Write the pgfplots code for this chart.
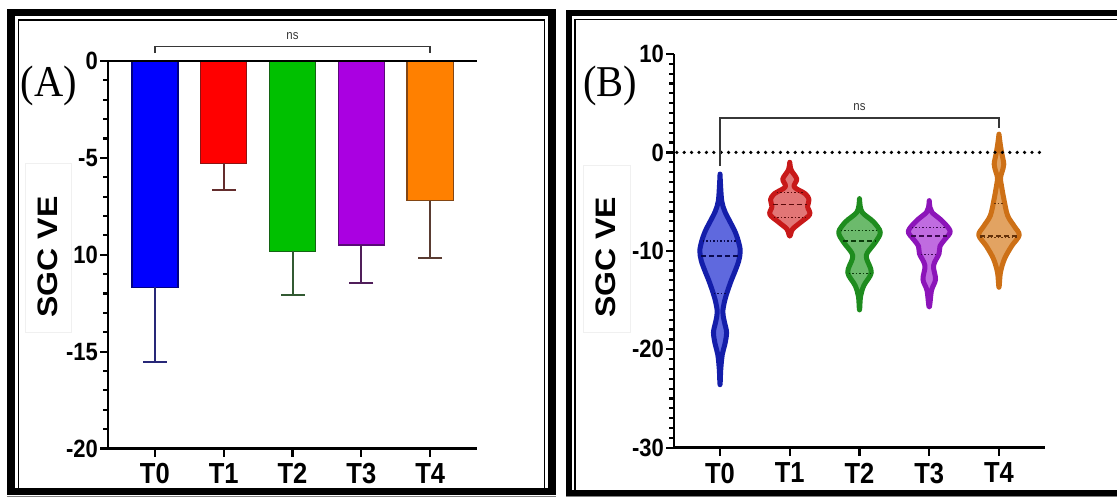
\documentclass[border=0pt]{standalone}
\usepackage{fontspec}
\setmainfont{Liberation Sans}
\newfontfamily\lab{Liberation Sans}[FakeStretch=0.88]
\newfontfamily\ser{Liberation Serif}[FakeStretch=0.92]
\usepackage{pgfplots}
\pgfplotsset{compat=1.18}
\definecolor{bT0}{RGB}{0,0,255}\definecolor{eT0}{RGB}{0,0,130}\definecolor{rT0}{RGB}{40,40,120}
\definecolor{bT1}{RGB}{255,0,0}\definecolor{eT1}{RGB}{140,20,20}\definecolor{rT1}{RGB}{100,45,45}
\definecolor{bT2}{RGB}{0,192,0}\definecolor{eT2}{RGB}{20,100,20}\definecolor{rT2}{RGB}{50,90,50}
\definecolor{bT3}{RGB}{170,0,225}\definecolor{eT3}{RGB}{90,10,120}\definecolor{rT3}{RGB}{80,30,90}
\definecolor{bT4}{RGB}{255,128,0}\definecolor{eT4}{RGB}{130,70,20}\definecolor{rT4}{RGB}{90,60,50}
\definecolor{vfT0}{RGB}{95,105,222}\definecolor{vdT0}{RGB}{20,30,170}\definecolor{vmT0}{RGB}{10,10,80}
\definecolor{vfT1}{RGB}{226,118,118}\definecolor{vdT1}{RGB}{200,25,25}\definecolor{vmT1}{RGB}{90,10,10}
\definecolor{vfT2}{RGB}{108,186,108}\definecolor{vdT2}{RGB}{30,140,30}\definecolor{vmT2}{RGB}{10,60,10}
\definecolor{vfT3}{RGB}{192,108,224}\definecolor{vdT3}{RGB}{140,20,185}\definecolor{vmT3}{RGB}{60,10,80}
\definecolor{vfT4}{RGB}{226,163,98}\definecolor{vdT4}{RGB}{205,112,22}\definecolor{vmT4}{RGB}{100,50,10}
\definecolor{brk}{RGB}{55,55,55}
\pgfplotsset{
  panel/.style={
    scale only axis, clip=false,
    axis x line*=bottom, axis y line*=left,
    axis line style={line width=2.5pt},
    tick align=outside, major tick length=8pt, minor tick length=5pt,
    xtick style={line width=2.2pt, black}, ytick style={line width=2.2pt, black},
    xtick={0,1,2,3,4}, xticklabels={T0,T1,T2,T3,T4},
    xticklabel style={font=\lab\bfseries\fontsize{29}{29}\selectfont, inner sep=2pt, yshift=-5pt},
    yticklabel style={font=\lab\bfseries\fontsize{25}{25}\selectfont, inner sep=2pt},
  },
  mybar/.style={ybar, bar width=0.67, bar shift=0, line width=1.5pt},
  myerr/.style={error bars/.cd, y dir=minus, y explicit,
    error bar style={line width=2pt, color=#1},
    error mark options={rotate=90, line width=2pt, color=#1, mark size=12pt}},
  myvio/.style n args={2}{fill=#1, draw=#2, line width=5pt, smooth, tension=0.55, line join=round, line cap=round},
  qmed/.style={color=#1, line width=1.6pt, dash pattern=on 5pt off 3pt},
  qdot/.style={color=#1, line width=1.1pt, dash pattern=on 1.5pt off 2pt},
}
\begin{document}
\begin{tikzpicture}
\useasboundingbox (0,0) rectangle (1117pt,498pt);
% ---- frames ----
\begin{scope}[x=1pt,y=1pt]
\draw[line width=7.5pt] (11.2,6.5) rectangle (552,485.3);
\draw[line width=1.5pt] (18.5,6.5) -- (18.5,478.2) -- (544.5,478.2) -- (544.5,6.5);
\draw[line width=1.2pt, gray] (7,1.5) -- (556,1.5);
\draw[line width=6pt] (1117,485.3) -- (569.2,485.3) -- (569.2,5.3) -- (1117,5.3);
\draw[line width=1.5pt] (1117,478.5) -- (575,478.5) -- (575,5.3);
\draw[line width=1.2pt, gray] (566,1.3) -- (1117,1.3);
\end{scope}

% ---- Panel A ----
\begin{axis}[panel, at={(108pt,49.5pt)}, anchor=south west,
  width=369pt, height=387.5pt,
  xmin=-0.68, xmax=4.68, ymin=-20, ymax=0,
  ytick={-20,-15,-10,-5,0}, yticklabels={-20,-15,10,-5,0},
  minor y tick num=4]
\addplot[mybar, fill=bT0, draw=eT0, myerr=rT0] coordinates {(0,-11.68) +- (0,3.86)};
\addplot[mybar, fill=bT1, draw=eT1, myerr=rT1] coordinates {(1,-5.28) +- (0,1.38)};
\addplot[mybar, fill=bT2, draw=eT2, myerr=rT2] coordinates {(2,-9.83) +- (0,2.25)};
\addplot[mybar, fill=bT3, draw=eT3, myerr=rT3] coordinates {(3,-9.50) +- (0,1.98)};
\addplot[mybar, fill=bT4, draw=eT4, myerr=rT4] coordinates {(4,-7.21) +- (0,2.94)};
\addplot[line width=2.5pt, black] coordinates {(-0.68,0) (4.68,0)};
\addplot[line width=1.5pt, brk] coordinates {(0,0.40) (0,0.74) (4,0.74) (4,0.40)};
\node[font=\lab\fontsize{13}{13}\selectfont, text=brk] at (axis cs:2,1.3) {ns};
\end{axis}

% ---- Panel B ----
\begin{axis}[panel, at={(674pt,50.3pt)}, anchor=south west,
  width=371pt, height=393.7pt,
  xmin=-0.66, xmax=4.66, ymin=-30, ymax=10,
  ytick={-30,-20,-10,0,10}, yticklabels={-30,-20,-10,0,10},
  minor y tick num=9]
% T0
\addplot[myvio={vfT0}{vdT0}] coordinates {(0,-2.2) (0.009,-3.5) (0.026,-5.0) (0.069,-6.0) (0.140,-7.0) (0.212,-8.0) (0.262,-9.0) (0.290,-10.0) (0.269,-11.0) (0.219,-12.0) (0.162,-13.0) (0.112,-14.0) (0.069,-15.0) (0.040,-16.2) (0.062,-17.2) (0.094,-18.3) (0.069,-19.5) (0.033,-20.5) (0.011,-22.0) (0,-23.6) (-0.011,-22.0) (-0.033,-20.5) (-0.069,-19.5) (-0.094,-18.3) (-0.062,-17.2) (-0.040,-16.2) (-0.069,-15.0) (-0.112,-14.0) (-0.162,-13.0) (-0.219,-12.0) (-0.269,-11.0) (-0.290,-10.0) (-0.262,-9.0) (-0.212,-8.0) (-0.140,-7.0) (-0.069,-6.0) (-0.026,-5.0) (-0.009,-3.5) (0,-2.2)};
\addplot[qdot=vmT0] coordinates {(-0.25,-9.0) (0.25,-9.0)};
\addplot[qmed=vmT0] coordinates {(-0.27,-10.5) (0.27,-10.5)};
\addplot[qdot=vmT0] coordinates {(-0.09,-14.3) (0.09,-14.3)};
% T1
\addplot[myvio={vfT1}{vdT1}] coordinates {(1,-1.0) (1.021,-1.8) (1.100,-2.7) (1.064,-3.5) (1.222,-4.2) (1.276,-4.8) (1.255,-5.5) (1.286,-6.3) (1.157,-7.1) (1.040,-7.8) (1,-8.5) (0.960,-7.8) (0.843,-7.1) (0.714,-6.3) (0.745,-5.5) (0.724,-4.8) (0.778,-4.2) (0.936,-3.5) (0.900,-2.7) (0.979,-1.8) (1,-1.0)};
\addplot[qdot=vmT1] coordinates {(0.81,-4.1) (1.19,-4.1)};
\addplot[qmed=vmT1] coordinates {(0.755,-5.3) (1.245,-5.3)};
\addplot[qdot=vmT1] coordinates {(0.77,-6.6) (1.23,-6.6)};
% T2
\addplot[myvio={vfT2}{vdT2}] coordinates {(2,-4.7) (2.011,-5.5) (2.040,-6.1) (2.122,-6.6) (2.207,-7.1) (2.298,-8.1) (2.230,-9.1) (2.112,-10.2) (2.102,-10.8) (2.169,-12.2) (2.064,-13.5) (2.016,-14.6) (2,-16.0) (1.984,-14.6) (1.936,-13.5) (1.831,-12.2) (1.898,-10.8) (1.888,-10.2) (1.770,-9.1) (1.702,-8.1) (1.793,-7.1) (1.878,-6.6) (1.960,-6.1) (1.989,-5.5) (2,-4.7)};
\addplot[qdot=vmT2] coordinates {(1.73,-7.9) (2.27,-7.9)};
\addplot[qmed=vmT2] coordinates {(1.77,-9.0) (2.23,-9.0)};
\addplot[qdot=vmT2] coordinates {(1.845,-12.3) (2.155,-12.3)};
% T3
\addplot[myvio={vfT3}{vdT3}] coordinates {(3,-4.9) (3.011,-5.6) (3.040,-6.1) (3.183,-6.95) (3.300,-8.0) (3.229,-8.8) (3.155,-9.5) (3.140,-10.3) (3.062,-11.5) (3.090,-12.9) (3.033,-14.0) (3,-15.7) (2.967,-14.0) (2.910,-12.9) (2.938,-11.5) (2.860,-10.3) (2.845,-9.5) (2.771,-8.8) (2.700,-8.0) (2.817,-6.95) (2.960,-6.1) (2.989,-5.6) (3,-4.9)};
\addplot[qdot=vmT3] coordinates {(2.75,-7.6) (3.25,-7.6)};
\addplot[qmed=vmT3] coordinates {(2.745,-8.5) (3.255,-8.5)};
\addplot[qdot=vmT3] coordinates {(2.875,-10.4) (3.125,-10.4)};
% T4
\addplot[myvio={vfT4}{vdT4}] coordinates {(4,1.85) (4.019,0.8) (4.043,-0.2) (4.069,-1.2) (4.043,-2.0) (4.021,-2.6) (4.036,-3.4) (4.069,-4.7) (4.123,-6.4) (4.219,-7.5) (4.290,-8.4) (4.183,-9.5) (4.080,-10.8) (4.021,-12.2) (4,-13.7) (3.979,-12.2) (3.920,-10.8) (3.817,-9.5) (3.710,-8.4) (3.781,-7.5) (3.877,-6.4) (3.931,-4.7) (3.964,-3.4) (3.979,-2.6) (3.957,-2.0) (3.931,-1.2) (3.957,-0.2) (3.981,0.8) (4,1.85)};
\addplot[qdot=vmT4] coordinates {(3.93,-5.2) (4.07,-5.2)};
\addplot[qmed=vmT4] coordinates {(3.73,-8.5) (4.27,-8.5)};
\addplot[qdot=vmT4] coordinates {(3.73,-8.62) (4.27,-8.62)};
% zero line and bracket
\addplot[black, line width=3.6pt, line cap=round, dash pattern=on 0pt off 7.4pt] coordinates {(-0.62,0) (4.66,0)};
\addplot[line width=1.5pt, brk] coordinates {(0,-1.39) (0,3.49) (4,3.49) (4,2.47)};
\node[font=\lab\fontsize{13}{13}\selectfont, text=brk] at (axis cs:2,4.6) {ns};
\end{axis}

\begin{scope}[x=1pt,y=1pt]
% ---- tick marks (same places as the axes' own ticks) ----
\foreach \vv in {-20,-15,-10,-5,0} {\draw[line width=2.2pt, black, solid] (108,{49.5+(\vv+20)*19.375}) -- (100,{49.5+(\vv+20)*19.375});}
\foreach \vv in {-19,-18,-17,-16,-14,-13,-12,-11,-9,-8,-7,-6,-4,-3,-2,-1} {\draw[line width=2pt, black, solid] (108,{49.5+(\vv+20)*19.375}) -- (103,{49.5+(\vv+20)*19.375});}
\foreach \ii in {0,1,2,3,4} {\draw[line width=2.2pt, black, solid] ({108+(\ii+0.68)*68.843},49.5) -- ({108+(\ii+0.68)*68.843},41.5);}
\foreach \vv in {-30,-20,-10,0,10} {\draw[line width=2.2pt, black, solid] (674,{50.3+(\vv+30)*9.8425}) -- (666,{50.3+(\vv+30)*9.8425});}
\foreach \vv in {-29,-28,-27,-26,-25,-24,-23,-22,-21,-19,-18,-17,-16,-15,-14,-13,-12,-11,-9,-8,-7,-6,-5,-4,-3,-2,-1,1,2,3,4,5,6,7,8,9} {\draw[line width=2pt, black, solid] (674,{50.3+(\vv+30)*9.8425}) -- (669,{50.3+(\vv+30)*9.8425});}
\foreach \ii in {0,1,2,3,4} {\draw[line width=2.2pt, black, solid] ({674+(\ii+0.66)*69.737},50.3) -- ({674+(\ii+0.66)*69.737},42.3);}
% ---- y labels with their boxes ----
\draw[fill=white, draw=gray!12, line width=0.6pt] (25,166) rectangle (71,335);
\node[inner sep=0] at (47.5,241) {\scalebox{0.88}[1]{\rotatebox{90}{\bfseries\fontsize{32}{32}\selectfont SGC VE}}};
\draw[fill=white, draw=gray!12, line width=0.6pt] (583,166) rectangle (630,333);
\node[inner sep=0] at (606,240.5) {\scalebox{0.88}[1]{\rotatebox{90}{\bfseries\fontsize{32}{32}\selectfont SGC VE}}};
% ---- panel letters ----
\node[anchor=base west, inner sep=0, font=\ser\fontsize{44}{44}\selectfont] at (20.5,401) {(A)};
\node[anchor=base west, inner sep=0, font=\ser\fontsize{44}{44}\selectfont] at (583,401) {(B)};
\end{scope}
\end{tikzpicture}
\end{document}
